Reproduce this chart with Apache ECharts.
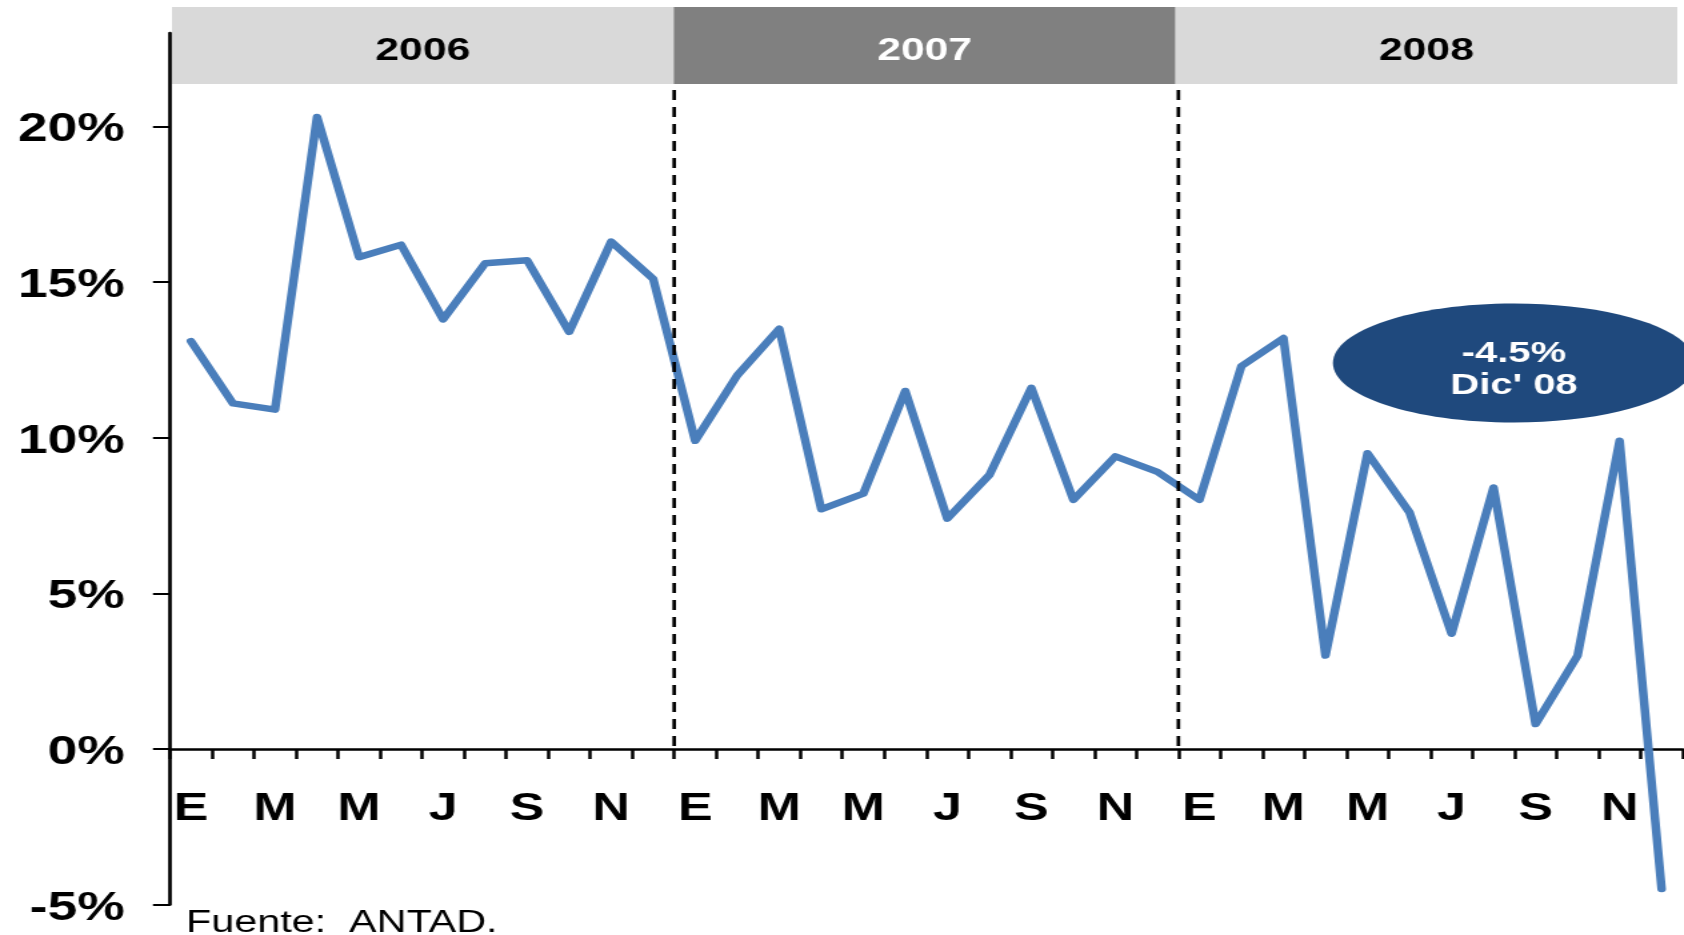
<!DOCTYPE html>
<html>
<head>
<meta charset="utf-8">
<title>Ventas ANTAD</title>
<script src="https://cdn.jsdelivr.net/npm/echarts@6/dist/echarts.min.js"></script>
<style>
  html, body { margin: 0; padding: 0; background: #fff; overflow: hidden; }
  /* la lámina original es 4:3 estirada a 16:9: se dibuja angosta y se estira */
  #chart { width: 1263px; height: 935px; transform: scaleX(1.3333); transform-origin: 0 0; }
</style>
</head>
<body>
<div id="chart"></div>
<script>
const years = ["2006", "2007", "2008"];
const monthInitials = ["E", "F", "M", "A", "M", "J", "J", "A", "S", "O", "N", "D"];
const growth2006 = [13.1, 11.1, 10.9, 20.3, 15.8, 16.2, 13.8, 15.6, 15.7, 13.4, 16.3, 15.1];
const growth2007 = [9.9, 12.0, 13.5, 7.7, 8.2, 11.5, 7.4, 8.8, 11.6, 8.0, 9.4, 8.9];
const growth2008 = [8.0, 12.3, 13.2, 3.0, 9.5, 7.6, 3.7, 8.4, 0.8, 3.0, 9.9, -4.5];
const yTicks = [-5, 0, 5, 10, 15, 20];
const headerFills = ["#D9D9D9", "#808080", "#D9D9D9"];
const headerTextColors = ["#000", "#fff", "#000"];
const calloutMonth = "Dic' 08";
const source = "Fuente:  ANTAD.";

const FONT = "Liberation Sans, Arial, sans-serif";
const Y_MIN = -5;
const Y_MAX = 23;
const GRID_TOP = 33;
const GRID_BOTTOM = 30.4;
const HEIGHT = 935;

// 36 meses, etiquetas repetidas por año
const categories = years.flatMap(() => monthInitials);
const growth = [...growth2006, ...growth2007, ...growth2008];
const n = monthInitials.length;
// bandas de año: [inicio, fin, indice] en meses
const yearBands = years.map((y, i) => [i * n, (i + 1) * n, i]);
const yearBreaks = years.slice(1).map((y, i) => [(i + 1) * n]);
const lastValue = growth[growth.length - 1];

// el eje de meses va sobre el 0%: se sube desde el borde inferior de la rejilla
const gridHeight = HEIGHT - GRID_TOP - GRID_BOTTOM;
const zeroOffset = -((0 - Y_MIN) / (Y_MAX - Y_MIN)) * gridHeight;

const chart = echarts.init(document.getElementById("chart"));

const options = {
  animation: false,
  grid: [
    { left: 127.5, right: 1, top: GRID_TOP, bottom: GRID_BOTTOM, outerBoundsMode: "none" },
    { left: 129, right: 5, top: 7, height: 77, outerBoundsMode: "none" },
  ],
  xAxis: [
    {
      type: "category",
      gridIndex: 0,
      data: categories,
      boundaryGap: true,
      offset: zeroOffset,
      axisLine: { onZero: false, lineStyle: { color: "#000", width: 2.7 } },
      axisTick: { show: true, interval: 0, length: 10, lineStyle: { color: "#000", width: 2.5 } },
      axisLabel: {
        show: true,
        interval: 1,
        margin: 41,
        color: "#000",
        fontFamily: FONT,
        fontSize: 39,
        fontWeight: "bold",
      },
      splitLine: { show: false },
    },
    { type: "value", gridIndex: 0, position: "top", min: 0, max: years.length * n, show: false },
    { type: "value", gridIndex: 1, min: 0, max: years.length * n, show: false },
  ],
  yAxis: [
    {
      type: "value",
      gridIndex: 0,
      min: Y_MIN,
      max: Y_MAX,
      axisLine: { show: true, lineStyle: { color: "#000", width: 2.7 } },
      axisTick: { show: true, length: 12.75, customValues: yTicks, lineStyle: { color: "#000", width: 2 } },
      axisLabel: {
        customValues: yTicks,
        margin: 34,
        verticalAlign: "top",
        lineHeight: 8,
        color: "#000",
        fontFamily: FONT,
        fontSize: 40,
        fontWeight: "bold",
        formatter: "{value}%",
      },
      splitLine: { show: false },
    },
    { type: "value", gridIndex: 1, min: 0, max: 1, show: false },
  ],
  series: [
    {
      name: "Crecimiento",
      type: "line",
      xAxisIndex: 0,
      yAxisIndex: 0,
      data: growth,
      symbol: "none",
      z: 3,
      lineStyle: { color: "#4A7EBB", width: 6.5, cap: "round", join: "round" },
    },
    {
      // separadores de año punteados
      type: "custom",
      xAxisIndex: 1,
      yAxisIndex: 0,
      data: yearBreaks,
      z: 10,
      silent: true,
      renderItem: (params, api) => {
        const bottom = api.coord([api.value(0), 0]);
        return {
          type: "line",
          shape: { x1: bottom[0], y1: 90, x2: bottom[0], y2: bottom[1] },
          style: { stroke: "#000", lineWidth: 2.7, lineDash: [10, 7] },
        };
      },
    },
    {
      // encabezado de años
      type: "custom",
      xAxisIndex: 2,
      yAxisIndex: 1,
      data: yearBands,
      silent: true,
      renderItem: (params, api) => {
        const i = api.value(2);
        const p0 = api.coord([api.value(0), 0]);
        const p1 = api.coord([api.value(1), 1]);
        return {
          type: "group",
          children: [
            {
              type: "rect",
              shape: { x: p0[0], y: p1[1], width: p1[0] - p0[0], height: p0[1] - p1[1] },
              style: { fill: headerFills[i] },
            },
            {
              type: "text",
              style: {
                text: years[i],
                x: (p0[0] + p1[0]) / 2,
                y: (p0[1] + p1[1]) / 2 + 6,
                align: "center",
                verticalAlign: "middle",
                font: "bold 32px " + FONT,
                fill: headerTextColors[i],
              },
            },
          ],
        };
      },
    },
  ],
  graphic: [
    {
      type: "ellipse",
      z: 20,
      shape: { cx: 1135.5, cy: 363, rx: 135.8, ry: 59.5 },
      style: { fill: "#1F497D" },
    },
    {
      type: "text",
      z: 21,
      style: {
        text: lastValue.toFixed(1) + "%\n" + calloutMonth,
        x: 1135.5,
        y: 370,
        align: "center",
        verticalAlign: "middle",
        lineHeight: 32,
        font: "bold 30px " + FONT,
        fill: "#fff",
      },
    },
    {
      type: "text",
      style: {
        text: source,
        x: 139.5,
        y: 923,
        verticalAlign: "middle",
        font: "31px " + FONT,
        fill: "#000",
      },
    },
  ],
};

chart.setOption(options);
</script>
</body>
</html>
